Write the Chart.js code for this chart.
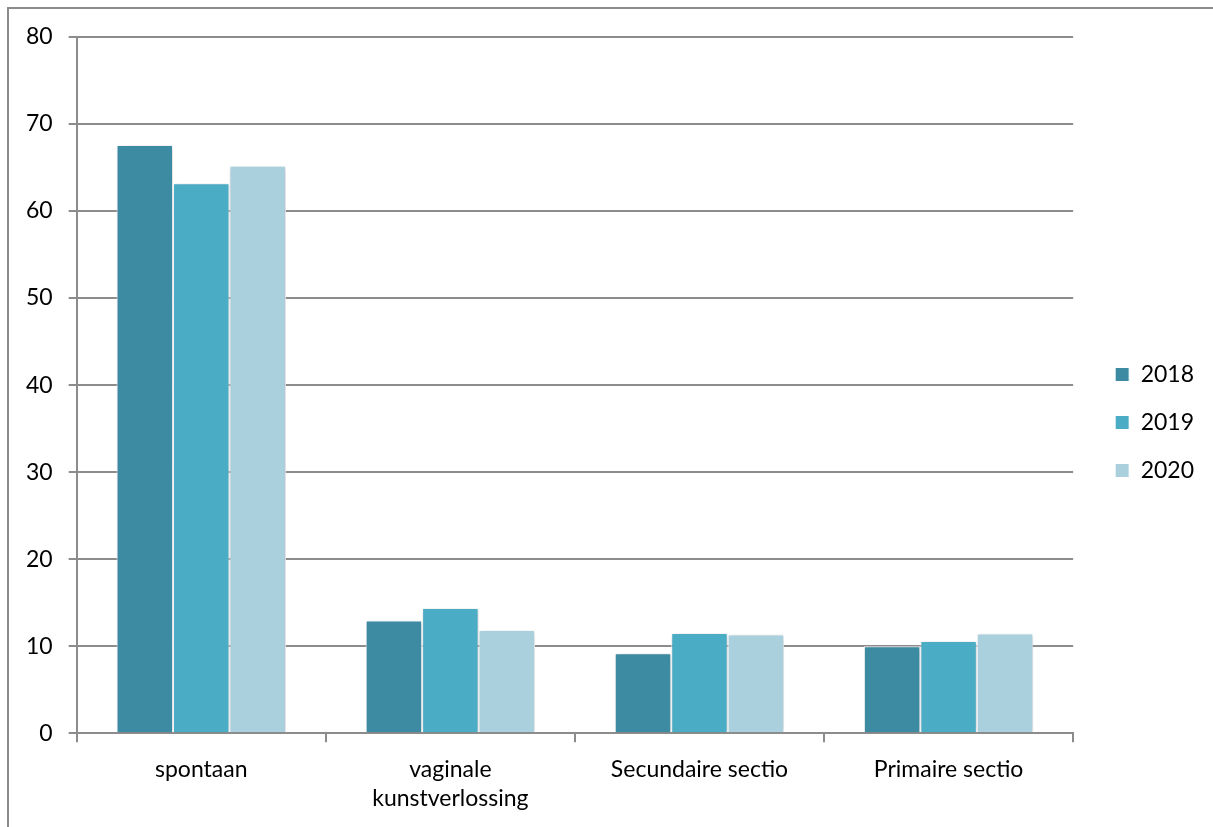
<!DOCTYPE html>
<html>
<head>
<meta charset="utf-8">
<script src="https://cdn.jsdelivr.net/npm/chart.js@4/dist/chart.umd.min.js"></script>
<style>
  html, body { margin: 0; padding: 0; background: #fff; overflow: hidden; }
  #frame { position: absolute; left: 7px; top: 7px; width: 1300px; height: 900px; border: 2px solid #8c8c8c; }
  #wrap { position: absolute; left: 0; top: 0; width: 1213px; height: 827px; }
</style>
</head>
<body>
<div id="frame"></div>
<div id="wrap"><canvas id="chart"></canvas></div>
<script>
const categories = ["spontaan", ["vaginale", "kunstverlossing"], "Secundaire sectio", "Primaire sectio"]
const years = ["2018", "2019", "2020"]
const values2018 = [67.6, 12.95, 9.2, 10.0]
const values2019 = [63.2, 14.4, 11.5, 10.6]
const values2020 = [65.2, 11.85, 11.35, 11.45]
const colors = ["#3c8ba3", "#4bacc6", "#aacfdd"]

const shadow = {
  id: "barShadow",
  beforeDatasetsDraw(chart) {
    const ctx = chart.ctx
    ctx.save()
    ctx.shadowColor = "rgba(0,0,0,0.22)"
    ctx.shadowBlur = 5
    ctx.shadowOffsetX = 1
    ctx.shadowOffsetY = 1
  },
  afterDatasetsDraw(chart) {
    chart.ctx.restore()
  },
}

// nudge the legend a bit further from the plot, like the original
const legendShift = {
  id: "legendShift",
  afterLayout(chart) {
    const lg = chart.legend
    lg.left += 17
    lg.right += 17
    lg.top -= 9
    lg.bottom -= 9
  },
}

const font = { family: "Lato, 'Open Sans', sans-serif", size: 23 }

new Chart(document.getElementById("chart"), {
  type: "bar",
  data: {
    labels: categories,
    datasets: [values2018, values2019, values2020].map((vals, i) => ({
      label: years[i],
      data: vals,
      backgroundColor: colors[i],
      borderColor: "#ffffff",
      borderWidth: 1,
      categoryPercentage: 0.68,
      barPercentage: 1,
    })),
  },
  options: {
    responsive: true,
    maintainAspectRatio: false,
    animation: false,
    layout: { padding: { left: 10, top: 37, right: 26, bottom: 1 } },
    plugins: {
      tooltip: { enabled: false },
      legend: {
        position: "right",
        labels: {
          boxWidth: 14,
          boxHeight: 14,
          padding: 25,
          color: "#000",
          font: font,
        },
      },
    },
    scales: {
      x: {
        grid: { display: true, drawOnChartArea: false, color: "#8c8c8c", lineWidth: 2, tickLength: 9, offset: true },
        border: { color: "#8c8c8c", width: 2 },
        ticks: { color: "#000", font: { ...font, lineHeight: 1.3 }, padding: 12, maxRotation: 0 },
      },
      y: {
        min: 0,
        max: 80,
        grid: { color: "#8c8c8c", lineWidth: 2, tickLength: 8 },
        border: { color: "#8c8c8c", width: 2 },
        ticks: { stepSize: 10, color: "#000", font: font, padding: 16 },
      },
    },
  },
  plugins: [shadow, legendShift],
})
</script>
</body>
</html>
